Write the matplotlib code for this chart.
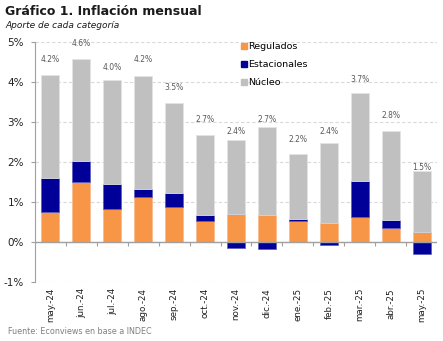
import numpy as np
import matplotlib
matplotlib.use('Agg')
import matplotlib.pyplot as plt
from matplotlib.patches import Patch

# aporte de cada categoria a la inflacion mensual (pp)
meses = ['may.-24', 'jun.-24', 'jul.-24', 'ago.-24', 'sep.-24', 'oct.-24', 'nov.-24',
         'dic.-24', 'ene.-25', 'feb.-25', 'mar.-25', 'abr.-25', 'may.-25']
regulados = [0.75, 1.49, 0.83, 1.13, 0.88, 0.53, 0.70, 0.67, 0.52, 0.47, 0.64, 0.36, 0.26]
estacionales = [0.84, 0.54, 0.61, 0.19, 0.35, 0.16, -0.14, -0.16, 0.05, -0.08, 0.88, 0.20, -0.29]
nucleo = [2.59, 2.53, 2.60, 2.82, 2.23, 1.99, 1.86, 2.19, 1.64, 2.01, 2.21, 2.22, 1.51]
total = [4.2, 4.6, 4.0, 4.2, 3.5, 2.7, 2.4, 2.7, 2.2, 2.4, 3.7, 2.8, 1.5]

C_REG = '#F79646'
C_EST = '#000099'
C_NUC = '#C0C0C0'

plt.rcParams['font.family'] = 'DejaVu Sans'

fig = plt.figure(figsize=(4.43, 3.41), dpi=100)
ax = fig.add_axes([0.079, 0.172, 0.9075, 0.706])

x = np.arange(len(meses))
reg = np.array(regulados)
est = np.array(estacionales)
nuc = np.array(nucleo)
w = 0.58

est_pos = np.where(est > 0, est, 0)
est_neg = np.where(est < 0, est, 0)

ax.bar(x, reg, w, color=C_REG, edgecolor='#FAB88A', linewidth=0.5, zorder=3)
ax.bar(x, est_pos, w, bottom=reg, color=C_EST, edgecolor='#5A5AC0', linewidth=0.5, zorder=3)
ax.bar(x, est_neg, w, color=C_EST, edgecolor='#5A5AC0', linewidth=0.5, zorder=3)
ax.bar(x, nuc, w, bottom=reg + est_pos, color=C_NUC, edgecolor='#E4E4E4', linewidth=0.5, zorder=3)

# etiqueta del total sobre el valor del mes
for xi, t in zip(x, total):
    ax.annotate('%.1f%%' % t, (xi, t), xytext=(0, 7), textcoords='offset points',
                ha='center', va='bottom', fontsize=5.5, color='#595959', zorder=4)

ax.set_ylim(-1, 5)
ax.set_xlim(-0.5, len(meses) - 0.5)
ax.set_yticks(range(-1, 6))
ax.set_yticklabels(['%d%%' % v for v in range(-1, 6)], fontsize=7.5, color='#202020')
ax.yaxis.grid(True, linestyle=(0, (3, 2)), color='#D9D9D9', linewidth=0.8, zorder=0)
ax.tick_params(axis='y', length=3, color='#A0A0A0', pad=5)

ax.set_xticks(x)
ax.set_xticklabels(meses, rotation=90, fontsize=6.3, color='#202020')
ax.tick_params(axis='x', length=0, pad=4)

for s in ['top', 'right', 'bottom']:
    ax.spines[s].set_visible(False)
ax.spines['left'].set_color('#A0A0A0')

# linea del cero con marcas entre categorias
ax.axhline(0, color='#A0A0A0', linewidth=1, zorder=4)
sec = ax.secondary_xaxis(1 / 6)
sec.set_xticks(x[:-1] + 0.5)
sec.set_xticklabels([])
sec.tick_params(axis='x', length=3, color='#A0A0A0', direction='out')
sec.spines['bottom'].set_visible(False)

handles = [Patch(color=C_REG, label='Regulados'),
           Patch(color=C_EST, label='Estacionales'),
           Patch(color=C_NUC, label='Núcleo')]
leg = fig.legend(handles=handles, loc='upper left', bbox_to_anchor=(0.535, 0.887),
                 frameon=False, fontsize=6.8, handlelength=0.65, handleheight=0.65,
                 handletextpad=0.15, labelspacing=0.95, borderaxespad=0)

fig.text(0.012, 0.965, 'Gráfico 1. Inflación mensual', fontsize=9, fontweight='bold',
         color='#1a1a1a', va='center')
fig.text(0.012, 0.925, 'Aporte de cada categoría', fontsize=6.5, style='italic',
         color='#1a1a1a', va='center')
fig.text(0.018, 0.027, 'Fuente: Econviews en base a INDEC', fontsize=5.8,
         color='#7f7f7f', va='center')

fig.savefig('out.png', dpi=100)
